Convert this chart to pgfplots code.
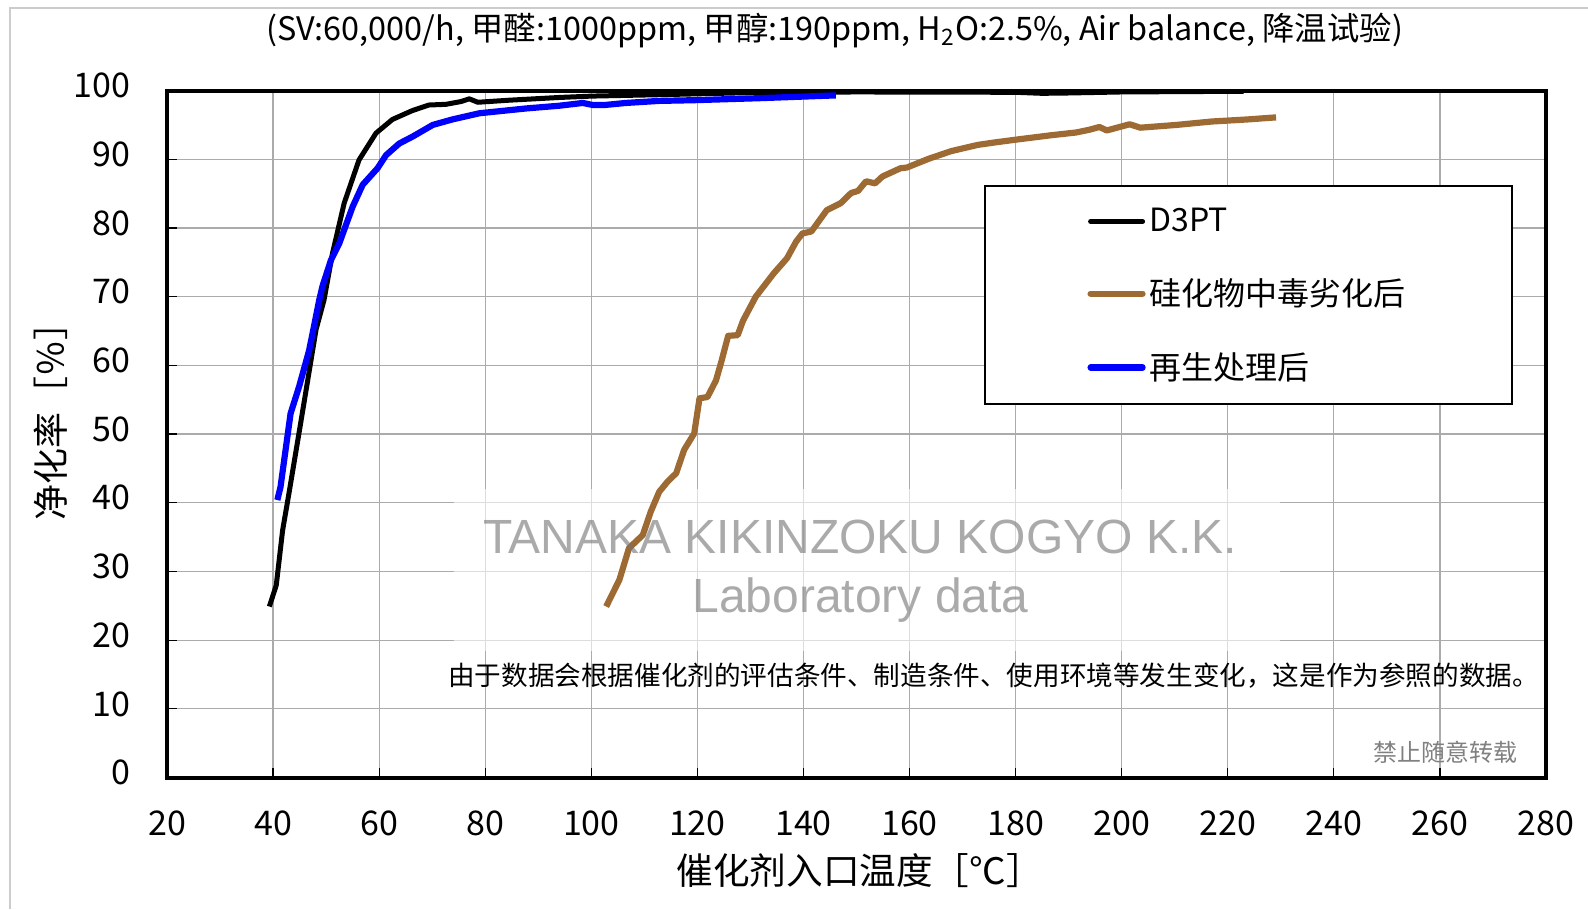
\documentclass[border=0pt]{standalone}
\usepackage{fontspec}
\setmainfont{Noto Sans CJK SC}
\newfontfamily\wmfont{Liberation Sans}
\usepackage{pgfplots}
\pgfplotsset{compat=1.18}
\definecolor{cbrown}{HTML}{9E6A33}
\definecolor{gridgray}{HTML}{ABABAB}
\begin{document}
\begin{tikzpicture}
\path[use as bounding box] (0,0) rectangle (794pt,454.5pt);
\draw[black!20, line width=0.8pt] (5pt,0) -- (5pt,450.5pt) -- (794pt,450.5pt);
\begin{axis}[
  at={(83.5pt,65.7pt)}, anchor=south west,
  scale only axis, width=689.5pt, height=343.5pt,
  xmin=20, xmax=280, ymin=0, ymax=100,
  xtick={20,40,...,280}, ytick={0,10,...,100},
  grid=major, grid style={gridgray, line width=0.6pt},
  axis line style={line width=2pt},
  tick style={black, line width=0.6pt}, major tick length=5pt,
  xtick pos=bottom, ytick pos=left, tick align=inside,
  /pgf/number format/assume math mode=true,
  ticklabel style={font=\fontsize{17}{20}\selectfont},
  xticklabel style={yshift=-13pt},
  yticklabel style={xshift=-15pt, yshift=2.5pt},
  legend style={at={(0.5928,0.8622)}, anchor=north west, draw=black, line width=1pt, fill=white,
     inner xsep=51pt, inner ysep=9pt, row sep=18pt, font=\fontsize{16}{19}\selectfont},
  legend cell align=left,
  legend image code/.code={\draw[#1, line cap=round] (0pt,0pt) -- (26pt,0pt);},
]
\fill[white, opacity=0.6] (axis cs:74.2,18.5) rectangle (axis cs:229.8,42);
\addplot[black, line width=2.5pt, line join=round] coordinates {
(39.3,24.9) (40.6,28) (41.8,36) (43,41.4) (45.2,51.6) (46.8,59.1) (48.1,65.2) (49.6,69.5)
(51.2,76.3) (53.4,83.6) (56.2,89.9) (59.4,93.8) (62.5,95.8) (66.3,97.1) (69.4,97.9) (72.6,98.0)
(75.4,98.4) (77,98.8) (78.6,98.3) (84.5,98.6) (94,99.0) (100.2,99.2) (112.8,99.4) (130,99.7)
(150,99.8) (180,99.75) (185,99.6) (190,99.65) (200,99.8) (223,99.9)
};
\addlegendentry{D3PT}
\addplot[cbrown, line width=3.1pt, line join=round] coordinates {
(102.8,24.9) (105.3,28.8) (107.1,33.4) (109.7,35.3) (111.2,38.7) (112.8,41.6) (114.4,43.1) (116,44.3)
(117.5,47.7) (119.4,50.1) (120.4,55.2) (121.9,55.4) (123.5,57.8) (124.5,60.5) (125.8,64.3) (127.6,64.4)
(128.6,66.5) (131,70.0) (134.4,73.4) (136.9,75.6) (138.6,78.0) (139.8,79.2) (141.5,79.5) (144.4,82.6)
(147,83.6) (149,85.1) (150.3,85.4) (151.8,86.8) (153.5,86.5) (154.9,87.5) (158.3,88.7) (159.5,88.8)
(163.7,90.1) (167.9,91.2) (172.9,92.1) (176.5,92.5) (180.5,92.9) (186.7,93.5) (191.4,93.9) (193.9,94.3)
(195.8,94.7) (197.2,94.2) (201.5,95.1) (203.5,94.6) (210.3,95.0) (217,95.5) (223.7,95.8) (229.1,96.1)
};
\addlegendentry{硅化物中毒劣化后}
\addplot[blue, line width=3.1pt, line join=round] coordinates {
(40.8,40.4) (41.4,42.3) (43.3,53) (44.9,56.9) (46.8,62.2) (48.7,69.5) (49.3,71.5) (50.9,75.3)
(52.5,77.8) (55,83.1) (56.9,86.3) (59.7,88.7) (61.3,90.6) (63.8,92.3) (66.3,93.3) (70.1,95)
(73.8,95.8) (78.9,96.7) (87.7,97.4) (94,97.8) (98.4,98.2) (100.3,97.9) (102.5,97.9) (106.5,98.2)
(112.8,98.5) (119.3,98.6) (131.9,98.9) (146.1,99.3)
};
\addlegendentry{再生处理后}
\end{axis}
\node[font=\fontsize{16.2}{19}\selectfont] at (417.3pt,439.3pt) {(SV:60,000/h, 甲醛:1000ppm, 甲醇:190ppm, H\textsubscript{2}O:2.5\%, Air balance, 降温试验)};
\node[font=\fontsize{18.3}{21}\selectfont] at (429.8pt,19pt) {催化剂入口温度［℃］};
\node[rotate=90, font=\fontsize{18}{21}\selectfont] at (25.3pt,248pt) {净化率［％］};
\node[anchor=east, font=\fontsize{13.3}{15}\selectfont] at (773pt,116.75pt) {由于数据会根据催化剂的评估条件、制造条件、使用环境等发生变化，这是作为参照的数据。};
\node[anchor=east, text=black!50, font=\fontsize{12}{14}\selectfont] at (762.5pt,78.25pt) {禁止随意转载};
\node[text=black!55, text opacity=0.6, font=\wmfont\fontsize{24}{28}\selectfont] at (430pt,186pt) {TANAKA KIKINZOKU KOGYO K.K.};
\node[text=black!55, text opacity=0.6, font=\wmfont\fontsize{24}{28}\selectfont] at (430.3pt,154.25pt) {Laboratory data};
\end{tikzpicture}
\end{document}
